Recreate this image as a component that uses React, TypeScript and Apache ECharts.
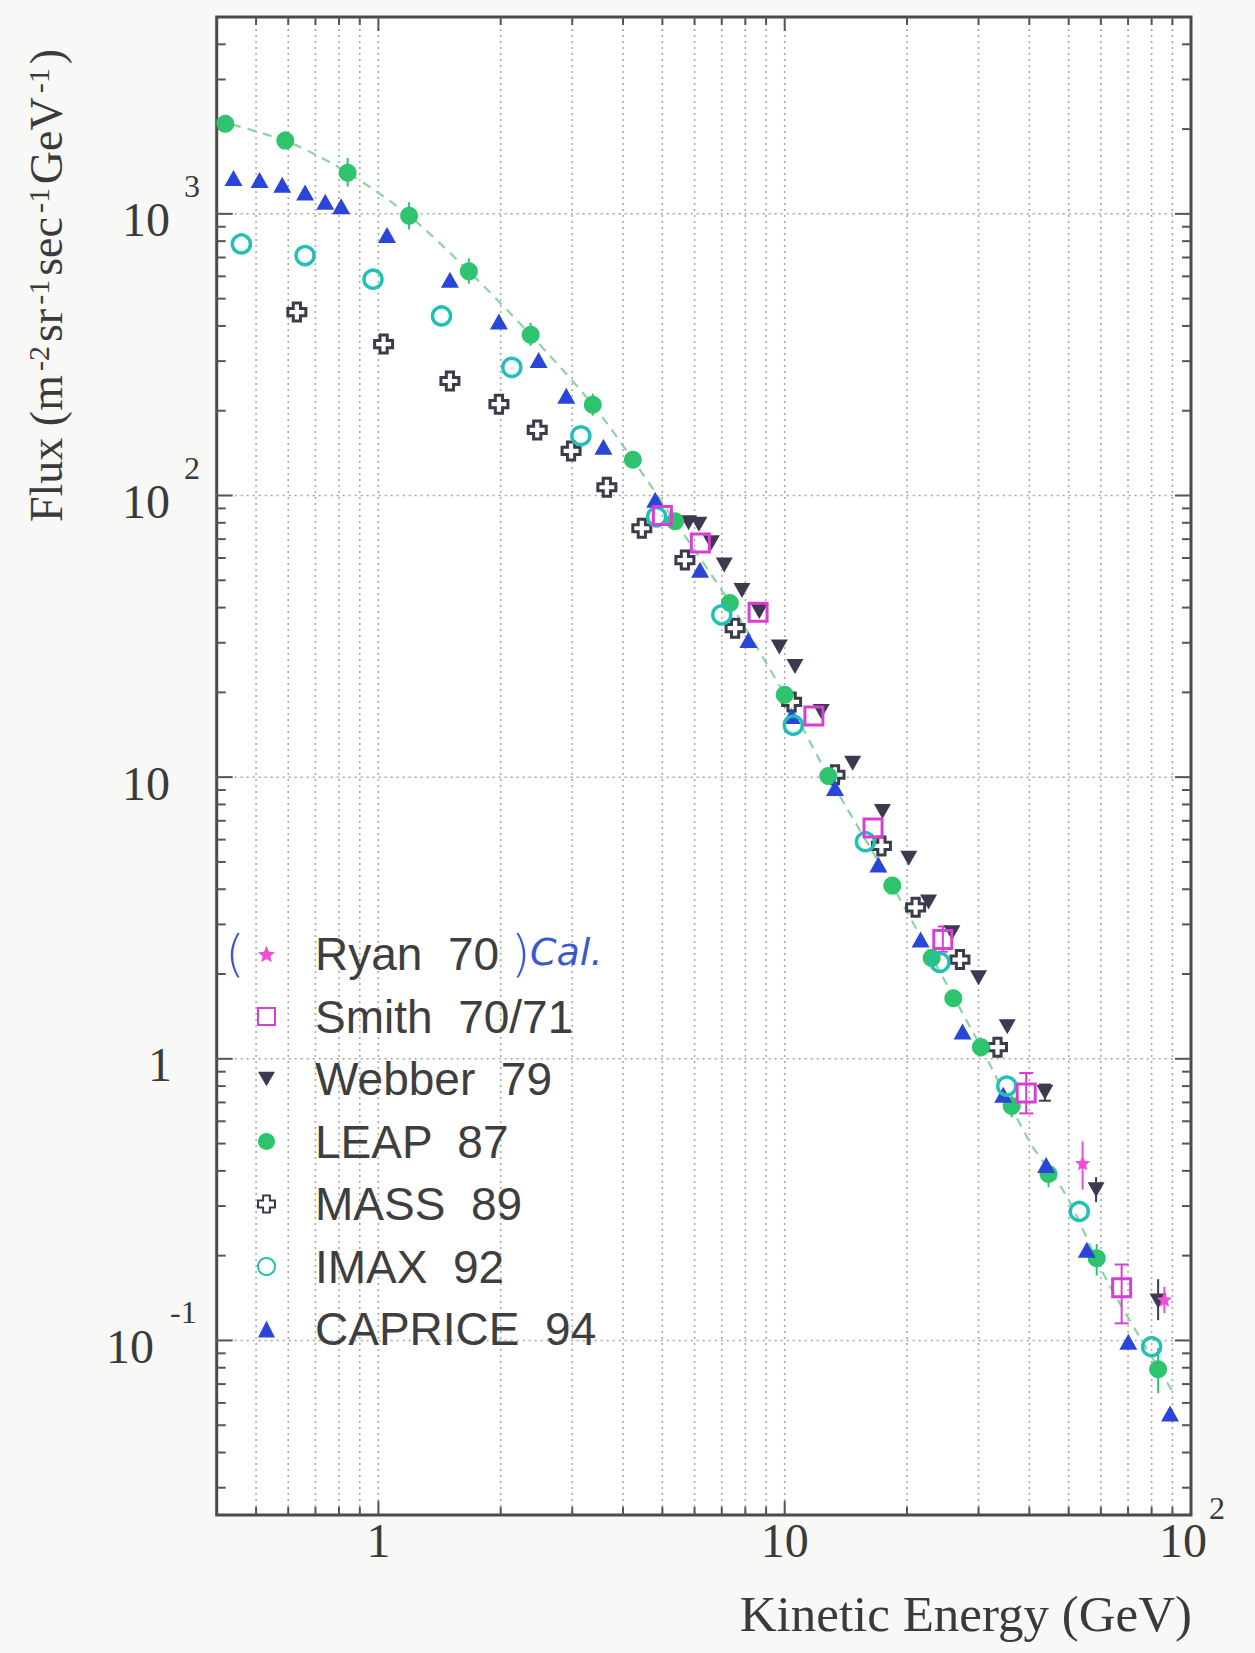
import React, { useEffect, useRef } from "react";
import * as echarts from "echarts";

// ---------- axes ----------
const X_MIN = 0.4;
const X_MAX = 100;
const Y_MIN = 0.024;
const Y_MAX = 5000;

const xGridValues = [0.5, 0.6, 0.7, 0.8, 0.9, 1, 2, 3, 4, 5, 6, 7, 8, 9, 10, 20, 30, 40, 50, 60, 70, 80, 90];
const xMajorValues = [1, 10];
const yMajorValues = [0.1, 1, 10, 100, 1000];
const yMinorValues = [
  0.03, 0.04, 0.05, 0.06, 0.07, 0.08, 0.09,
  0.2, 0.3, 0.4, 0.5, 0.6, 0.7, 0.8, 0.9,
  2, 3, 4, 5, 6, 7, 8, 9,
  20, 30, 40, 50, 60, 70, 80, 90,
  200, 300, 400, 500, 600, 700, 800, 900,
  2000, 3000, 4000,
];

const yTickValues = [1000, 100, 10, 1, 0.1];
const yTickBase = ["10", "10", "10", "1", "10"];
const yTickExp = ["3", "2", "", "", "-1"];
const xTickValues = [1, 10, 100];
const xTickBase = ["1", "10", "10"];
const xTickExp = ["", "", "2"];

// ---------- data ----------
const ryanX = [54.1, 86];
const ryanY = [0.427, 0.14];

const smithX = [5.0, 6.2, 8.6, 11.8, 16.5, 24.5, 39.3, 67.5];
const smithY = [85, 67.8, 38.5, 16.5, 6.6, 2.65, 0.756, 0.154];

const webberX = [5.8, 6.15, 6.6, 7.1, 7.85, 8.66, 9.7, 10.6, 12.3, 14.7, 17.4, 20.2, 22.6, 25.8, 30.0, 35.3, 43.7, 58.4, 83.0];
const webberY = [80, 79, 68, 56.7, 46, 38.7, 29, 24.7, 17.1, 11.2, 7.55, 5.15, 3.6, 2.8, 1.94, 1.3, 0.76, 0.343, 0.138];

const leapX = [0.42, 0.59, 0.84, 1.19, 1.67, 2.37, 3.37, 4.23, 5.37, 7.33, 10.0, 12.8, 18.4, 23.0, 26.0, 30.4, 36.2, 44.6, 58.6, 83.0];
const leapY = [2090, 1820, 1400, 985, 625, 372, 210, 134, 81, 41.5, 19.6, 10.1, 4.12, 2.28, 1.64, 1.1, 0.68, 0.39, 0.196, 0.079];

const massX = [0.63, 1.03, 1.5, 1.98, 2.46, 2.98, 3.65, 4.45, 5.68, 7.55, 10.4, 13.3, 17.3, 21.0, 27.0, 33.4];
const massY = [448, 345, 255, 211, 171, 144, 107, 76.5, 59, 33.8, 18.5, 10.2, 5.7, 3.45, 2.25, 1.1];

const imaxX = [0.46, 0.66, 0.97, 1.43, 2.13, 3.15, 4.84, 7.0, 10.5, 15.8, 24.1, 35.2, 53.1, 80.0];
const imaxY = [782, 711, 586, 434, 285, 163, 84, 37.7, 15.3, 5.9, 2.2, 0.8, 0.287, 0.095];

const capriceX = [0.44, 0.51, 0.58, 0.66, 0.74, 0.81, 1.05, 1.5, 1.98, 2.48, 2.9, 3.58, 4.8, 6.19, 8.14, 10.4, 13.3, 17.0, 21.6, 27.4, 34.5, 44.0, 55.4, 70.1, 88.8];
const capriceY = [1340, 1320, 1270, 1190, 1105, 1065, 842, 583, 415, 303, 226, 149, 96.6, 54.5, 30.7, 16.5, 9.15, 4.9, 2.65, 1.25, 0.745, 0.42, 0.21, 0.099, 0.055];

// fit curve
const fitX = [0.4, 0.6, 0.84, 1.19, 1.67, 2.37, 3.37, 4.23, 5.37, 7.33, 10, 12.8, 18.4, 23, 30.4, 40, 49.4, 62, 83, 90];
const fitY = [2150, 1800, 1400, 985, 625, 372, 210, 134, 81, 41.5, 19.6, 10.1, 4.12, 2.3, 1.1, 0.51, 0.325, 0.164, 0.08, 0.066];

// error bars: [x, low, high, capHalfWidthPx]
const smithErr = [[24.5, 2.4, 2.95, 5], [39.3, 0.64, 0.89, 7], [67.5, 0.115, 0.186, 7]];
const webberErr = [[43.7, 0.71, 0.81, 6], [58.4, 0.31, 0.38, 0], [83.0, 0.118, 0.165, 0]];
const ryanErr = [[54.1, 0.343, 0.509, 0], [86, 0.125, 0.155, 0]];
const leapErr = [
  [0.59, 1700, 1960, 0], [0.84, 1250, 1580, 0], [1.19, 880, 1100, 0], [1.67, 565, 695, 0],
  [2.37, 340, 410, 0], [3.37, 192, 230, 0], [30.4, 1.02, 1.19, 0], [36.2, 0.62, 0.74, 0],
  [44.6, 0.35, 0.43, 0], [58.6, 0.17, 0.22, 0], [83.0, 0.065, 0.094, 0],
];

const names = ["Ryan 70", "Smith 70/71", "Webber 79", "LEAP 87", "MASS 89", "IMAX 92", "CAPRICE 94"];

// ---------- styles ----------
const C_RYAN = "#ee4fd6";
const C_SMITH = "#d63ed6";
const C_WEBBER = "#3d3a50";
const C_LEAP = "#2ec46e";
const C_MASS = "#3b3b4a";
const C_IMAX = "#22c0b4";
const C_CAPRICE = "#2a46d8";
const C_TEXT = "#3a3a3a";
const C_FRAME = "#4a4a4a";
const SERIF = "Liberation Serif";
const SANS = "Liberation Sans";

const CROSS = "path://M6,0H14V6H20V14H14V20H6V14H0V6H6Z";
const STAR = "path://M10,0L12.9,6.9L20,7.6L14.6,12.3L16.2,19.3L10,15.6L3.8,19.3L5.4,12.3L0,7.6L7.1,6.9Z";
const DOWN_TRI = "path://M0,0L20,0L10,17Z";

const GRID = { left: 216.7, top: 17, width: 974.3, height: 1498 };

const pairs = (xs: number[], ys: number[]) => xs.map((x, i) => [x, ys[i]]);

const errSeries = (data: number[][], color: string) => ({
  type: "custom",
  z: 3,
  silent: true,
  data,
  encode: { x: 0, y: [1, 2] },
  renderItem: (params: any, api: any) => {
    const x = api.value(0);
    const p1 = api.coord([x, api.value(1)]);
    const p2 = api.coord([x, api.value(2)]);
    const cap = api.value(3);
    const children: any[] = [
      { type: "line", shape: { x1: p1[0], y1: p1[1], x2: p2[0], y2: p2[1] }, style: { stroke: color, lineWidth: 2 } },
    ];
    if (cap) {
      children.push({ type: "line", shape: { x1: p1[0] - cap, y1: p1[1], x2: p1[0] + cap, y2: p1[1] }, style: { stroke: color, lineWidth: 2 } });
      children.push({ type: "line", shape: { x1: p2[0] - cap, y1: p2[1], x2: p2[0] + cap, y2: p2[1] }, style: { stroke: color, lineWidth: 2 } });
    }
    return { type: "group", children };
  },
});

const gridDash = { stroke: "#a3a3a3", lineWidth: 1.5, lineDash: [2, 4] };
const tickStyle = { stroke: "#555555", lineWidth: 2 };

// label layout (pixel offsets from the axis positions)
const yLabelBaseRight = [170, 170, 170, 172, 154];
const yLabelExpLeft = [184, 184, 0, 0, 170];

export default function App() {
  const ref = useRef<HTMLDivElement>(null);

  useEffect(() => {
    if (!ref.current) return;
    const chart = echarts.init(ref.current, undefined, { renderer: "svg" });

    const option: any = {
      animation: false,
      backgroundColor: "#f8f8f7",
      grid: { ...GRID, show: true, backgroundColor: "#ffffff", borderColor: C_FRAME, borderWidth: 3 },
      xAxis: {
        type: "log",
        logBase: 10,
        min: X_MIN,
        max: X_MAX,
        axisLine: { show: false },
        axisTick: { show: false },
        axisLabel: { show: false },
        splitLine: { show: false },
      },
      yAxis: {
        type: "log",
        logBase: 10,
        min: Y_MIN,
        max: Y_MAX,
        axisLine: { show: false },
        axisTick: { show: false },
        axisLabel: { show: false },
        splitLine: { show: false },
      },
      legend: {
        orient: "vertical",
        left: 257,
        top: 931,
        padding: 0,
        itemGap: 16.5,
        itemWidth: 17,
        itemHeight: 17,
        selectedMode: false,
        data: names.map((n) => (n === "Webber 79" ? { name: n, icon: DOWN_TRI } : n)),
        formatter: (name: string) => name.replace(" ", "  "),
        textStyle: { fontFamily: SANS, fontSize: 46, color: "#3e3e3e", padding: [0, 0, 0, 35] },
      },
      series: [
        // vertical grid lines + x ticks
        {
          type: "custom",
          z: 1,
          silent: true,
          data: xGridValues.map((v) => [v, 1]),
          renderItem: (params: any, api: any) => {
            const cs = params.coordSys;
            const v = api.value(0);
            const p = api.coord([v, 1]);
            const len = xMajorValues.indexOf(v) >= 0 ? 14 : 8;
            const bottom = cs.y + cs.height;
            return {
              type: "group",
              children: [
                { type: "line", shape: { x1: p[0], y1: cs.y, x2: p[0], y2: bottom }, style: gridDash },
                { type: "line", shape: { x1: p[0], y1: bottom, x2: p[0], y2: bottom - len }, style: tickStyle },
                { type: "line", shape: { x1: p[0], y1: cs.y, x2: p[0], y2: cs.y + len }, style: tickStyle },
              ],
            };
          },
        },
        // horizontal grid lines + major y ticks
        {
          type: "custom",
          z: 1,
          silent: true,
          data: yMajorValues.map((v) => [1, v]),
          renderItem: (params: any, api: any) => {
            const cs = params.coordSys;
            const p = api.coord([1, api.value(1)]);
            const right = cs.x + cs.width;
            return {
              type: "group",
              children: [
                { type: "line", shape: { x1: cs.x, y1: p[1], x2: right, y2: p[1] }, style: gridDash },
                { type: "line", shape: { x1: cs.x, y1: p[1], x2: cs.x + 16, y2: p[1] }, style: tickStyle },
                { type: "line", shape: { x1: right - 16, y1: p[1], x2: right, y2: p[1] }, style: tickStyle },
              ],
            };
          },
        },
        // minor y ticks
        {
          type: "custom",
          z: 1,
          silent: true,
          data: yMinorValues.map((v) => [1, v]),
          renderItem: (params: any, api: any) => {
            const cs = params.coordSys;
            const p = api.coord([1, api.value(1)]);
            const right = cs.x + cs.width;
            return {
              type: "group",
              children: [
                { type: "line", shape: { x1: cs.x, y1: p[1], x2: cs.x + 9, y2: p[1] }, style: tickStyle },
                { type: "line", shape: { x1: right - 9, y1: p[1], x2: right, y2: p[1] }, style: tickStyle },
              ],
            };
          },
        },
        // fit curve
        {
          type: "line",
          z: 2,
          silent: true,
          data: pairs(fitX, fitY),
          showSymbol: false,
          smooth: 0.3,
          lineStyle: { color: "#8fd2a6", width: 2.2, type: [9, 7] },
        },
        errSeries(leapErr, C_LEAP),
        errSeries(smithErr, C_SMITH),
        errSeries(webberErr, C_WEBBER),
        errSeries(ryanErr, C_RYAN),
        {
          name: "MASS 89",
          type: "scatter",
          z: 4,
          silent: true,
          data: pairs(massX, massY),
          symbol: CROSS,
          symbolSize: 18,
          itemStyle: { color: "#ffffff", borderColor: C_MASS, borderWidth: 3, opacity: 1 },
        },
        {
          name: "Webber 79",
          type: "scatter",
          z: 4,
          silent: true,
          data: pairs(webberX, webberY),
          symbol: "triangle",
          symbolRotate: 180,
          symbolSize: [17, 15],
          itemStyle: { color: C_WEBBER, opacity: 1 },
        },
        {
          name: "LEAP 87",
          type: "scatter",
          z: 4,
          silent: true,
          data: pairs(leapX, leapY),
          symbol: "circle",
          symbolSize: 18,
          itemStyle: { color: C_LEAP, opacity: 1 },
        },
        {
          name: "CAPRICE 94",
          type: "scatter",
          z: 4,
          silent: true,
          data: pairs(capriceX, capriceY),
          symbol: "triangle",
          symbolSize: [18, 16],
          itemStyle: { color: C_CAPRICE, opacity: 1 },
        },
        {
          name: "IMAX 92",
          type: "scatter",
          z: 4,
          silent: true,
          data: pairs(imaxX, imaxY),
          symbol: "circle",
          symbolSize: 18,
          itemStyle: { color: "rgba(255,255,255,0)", borderColor: C_IMAX, borderWidth: 3.5, opacity: 1 },
        },
        {
          name: "Smith 70/71",
          type: "scatter",
          z: 4,
          silent: true,
          data: pairs(smithX, smithY),
          symbol: "rect",
          symbolSize: 18,
          itemStyle: { color: "rgba(255,255,255,0)", borderColor: C_SMITH, borderWidth: 3, opacity: 1 },
        },
        {
          name: "Ryan 70",
          type: "scatter",
          z: 4,
          silent: true,
          data: pairs(ryanX, ryanY),
          symbol: STAR,
          symbolSize: 15,
          itemStyle: { color: C_RYAN, opacity: 1 },
        },
      ],
    };

    chart.setOption(option);

    const px = (v: number) => chart.convertToPixel({ xAxisIndex: 0 } as any, v) as unknown as number;
    const py = (v: number) => chart.convertToPixel({ yAxisIndex: 0 } as any, v) as unknown as number;

    const els: any[] = [];
    yTickValues.forEach((v, i) => {
      const y = py(v);
      els.push({
        type: "text",
        x: yLabelBaseRight[i],
        y: y + 6,
        z: 10,
        style: { text: yTickBase[i], fontFamily: SERIF, fontSize: 48, fill: C_TEXT, align: "right", verticalAlign: "middle" },
      });
      if (yTickExp[i]) {
        els.push({
          type: "text",
          x: yLabelExpLeft[i],
          y: y - 28,
          z: 10,
          style: { text: yTickExp[i], fontFamily: SERIF, fontSize: 32, fill: C_TEXT, align: "left", verticalAlign: "middle" },
        });
      }
    });
    xTickValues.forEach((v, i) => {
      const x = px(v);
      const hasExp = !!xTickExp[i];
      els.push({
        type: "text",
        x: hasExp ? x - 8 : x,
        y: 1540,
        z: 10,
        style: { text: xTickBase[i], fontFamily: SERIF, fontSize: 48, fill: C_TEXT, align: "center", verticalAlign: "middle" },
      });
      if (hasExp) {
        els.push({
          type: "text",
          x: x + 18,
          y: 1508,
          z: 10,
          style: { text: xTickExp[i], fontFamily: SERIF, fontSize: 32, fill: C_TEXT, align: "left", verticalAlign: "middle" },
        });
      }
    });
    // axis titles
    els.push({
      type: "text",
      x: 1192,
      y: 1614,
      z: 10,
      style: { text: "Kinetic Energy (GeV)", fontFamily: SERIF, fontSize: 51, fill: C_TEXT, align: "right", verticalAlign: "middle" },
    });
    els.push({
      type: "text",
      x: 46,
      y: 522,
      rotation: Math.PI / 2,
      z: 10,
      style: {
        text: "{n|Flux (m}{s|-2}{n|sr}{s|-1}{n|sec}{s|-1}{n|GeV}{s|-1}{n|)}",
        align: "left",
        verticalAlign: "middle",
        fill: C_TEXT,
        rich: {
          n: { fontFamily: SERIF, fontSize: 46, lineHeight: 46, verticalAlign: "bottom", fill: C_TEXT },
          s: { fontFamily: SERIF, fontSize: 30, lineHeight: 30, verticalAlign: "top", padding: [0, 4, 32, 4], fill: C_TEXT },
        },
      },
    });
    // handwritten annotation around the Ryan entry
    els.push({
      type: "text",
      x: 235,
      y: 954,
      z: 10,
      style: { text: "(", fontFamily: "DejaVu Sans", fontSize: 50, fontWeight: "lighter", fill: "#3a58d0", align: "center", verticalAlign: "middle" },
    });
    els.push({
      type: "text",
      x: 511,
      y: 954,
      z: 10,
      style: { text: ")", fontFamily: "DejaVu Sans", fontSize: 50, fontWeight: "lighter", fill: "#3a58d0", align: "left", verticalAlign: "middle" },
    });
    els.push({
      type: "text",
      x: 530,
      y: 952,
      z: 10,
      style: { text: "Cal.", fontFamily: "DejaVu Sans", fontStyle: "italic", fontSize: 38, fill: "#3a58d0", align: "left", verticalAlign: "middle" },
    });

    chart.setOption({ graphic: els });

    return () => chart.dispose();
  }, []);

  return (
    <div
      ref={ref}
      style={{ position: "absolute", left: 0, top: 0, width: 1255, height: 1653 }}
    />
  );
}
